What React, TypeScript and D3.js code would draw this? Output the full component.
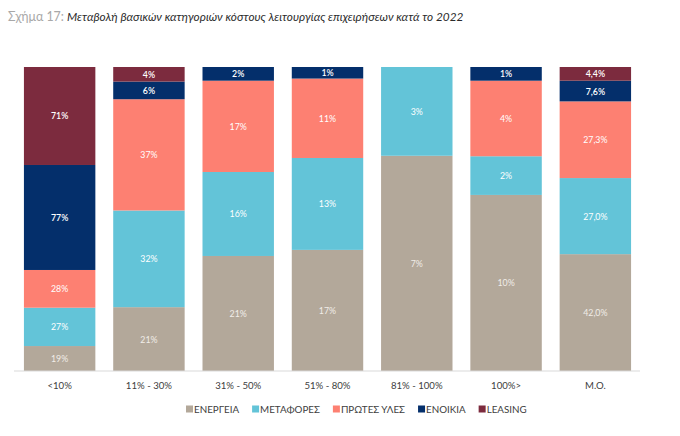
import { useEffect, useRef } from 'react';
import * as d3 from 'd3';

const categories = ['<10%', '11% - 30%', '31% - 50%', '51% - 80%', '81% - 100%', '100%>', 'Μ.Ο.'];
const seriesNames = ['ΕΝΕΡΓΕΙΑ', 'ΜΕΤΑΦΟΡΕΣ', 'ΠΡΩΤΕΣ ΥΛΕΣ', 'ΕΝΟΙΚΙΑ', 'LEASING'];
const seriesColors = ['#b3a89a', '#63c4d8', '#fd8072', '#042f6b', '#7c2b3e'];

// printed values per series, one per category (0 = missing)
const energy = [19, 21, 21, 17, 7, 10, 42.0];
const transport = [27, 32, 16, 13, 3, 2, 27.0];
const rawMaterials = [28, 37, 17, 11, 0, 4, 27.3];
const rent = [77, 6, 2, 1, 0, 1, 7.6];
const leasing = [71, 4, 0, 0, 0, 0, 4.4];

// share of each bar's height (%) (labels are rounded)
const energyShare = [8.2, 21.0, 37.8, 39.8, 70.8, 57.8, 38.4];
const transportShare = [12.6, 31.8, 27.6, 30.2, 29.2, 12.7, 25.0];
const rawMaterialsShare = [12.4, 36.6, 30.0, 26.1, 0, 24.8, 25.2];
const rentShare = [34.5, 5.8, 4.5, 3.8, 0, 4.5, 6.8];
const leasingShare = [32.2, 4.8, 0, 0, 0, 0, 4.5];

const seriesValues = [energy, transport, rawMaterials, rent, leasing];
const seriesShares = [energyShare, transportShare, rawMaterialsShare, rentShare, leasingShare];
const decimalCats = new Set(['Μ.Ο.']);

const fontFamily = 'Lato, "Open Sans", sans-serif';

export default function App() {
  const svgRef = useRef<SVGSVGElement>(null);
  const width = 680;
  const height = 436;

  useEffect(() => {
    if (!svgRef.current) return;
    const svg = d3.select(svgRef.current);
    svg.selectAll('*').remove();

    const margin = { top: 67, bottom: 65, left: 15, right: 40 };
    const x = d3
      .scaleBand<string>()
      .domain(categories)
      .range([margin.left, width - margin.right])
      .paddingInner(0.2)
      .paddingOuter(0.1);
    const y = d3.scaleLinear().domain([0, 1]).range([height - margin.bottom, margin.top]);

    // title
    const title = svg
      .append('text')
      .attr('x', 8)
      .attr('y', 21)
      .style('font-family', fontFamily)
      .style('font-size', '11.8px');
    title.append('tspan').attr('fill', '#a8a8a8').style('font-size', '12.4px').text('Σχήμα 17: ');
    title
      .append('tspan')
      .attr('fill', '#2b2b2b')
      .style('font-style', 'italic')
      .text('Μεταβολή βασικών κατηγοριών κόστους λειτουργίας επιχειρήσεων κατά το 2022');

    // stacked (normalised) bars
    categories.forEach((cat, ci) => {
      const total = d3.sum(seriesShares, (s) => s[ci]);
      let acc = 0;
      seriesShares.forEach((s, si) => {
        const share = s[ci];
        if (!share) return;
        const v = seriesValues[si][ci];
        const y0 = y(acc / total);
        const y1 = y((acc + share) / total);
        acc += share;
        svg
          .append('rect')
          .attr('x', x(cat)!)
          .attr('y', y1)
          .attr('width', x.bandwidth())
          .attr('height', y0 - y1)
          .attr('fill', seriesColors[si]);
        const label = decimalCats.has(cat) ? `${v.toFixed(1).replace('.', ',')}%` : `${v}%`;
        svg
          .append('text')
          .attr('x', x(cat)! + x.bandwidth() / 2)
          .attr('y', (y0 + y1) / 2)
          .attr('text-anchor', 'middle')
          .attr('dominant-baseline', 'central')
          .attr('fill', si === 0 ? '#f1ede8' : '#ffffff')
          .style('font-family', fontFamily)
          .style('font-size', '8.8px')
          .style('font-weight', si >= 3 ? '600' : '400')
          .text(label);
      });
    });

    // axis
    const axis = svg
      .append('g')
      .attr('transform', `translate(0,${y(0)})`)
      .call(d3.axisBottom(x).tickSize(0).tickPadding(11));
    axis.select('.domain').attr('stroke', '#d9d9d9').attr('d', `M${margin.left - 1},0H${width - margin.right}`);
    axis
      .selectAll('text')
      .attr('fill', '#404040')
      .style('font-family', fontFamily)
      .style('font-size', '9.6px');

    // legend
    const legend = svg.append('g').attr('transform', `translate(186,409)`);
    let lx = 0;
    seriesNames.forEach((name, i) => {
      legend
        .append('rect')
        .attr('x', lx)
        .attr('y', -3.5)
        .attr('width', 7)
        .attr('height', 7)
        .attr('fill', seriesColors[i]);
      const t = legend
        .append('text')
        .attr('x', lx + 8)
        .attr('y', 0)
        .attr('dominant-baseline', 'central')
        .attr('fill', '#404040')
        .style('font-family', fontFamily)
        .style('font-size', '9.8px')
        .text(name);
      const w = (t.node() as SVGTextElement).getComputedTextLength();
      lx += 8 + w + 13;
    });
  }, []);

  return (
    <svg
      ref={svgRef}
      width={width}
      height={height}
      style={{ position: 'absolute', left: 0, top: 0, background: '#fff' }}
    />
  );
}
